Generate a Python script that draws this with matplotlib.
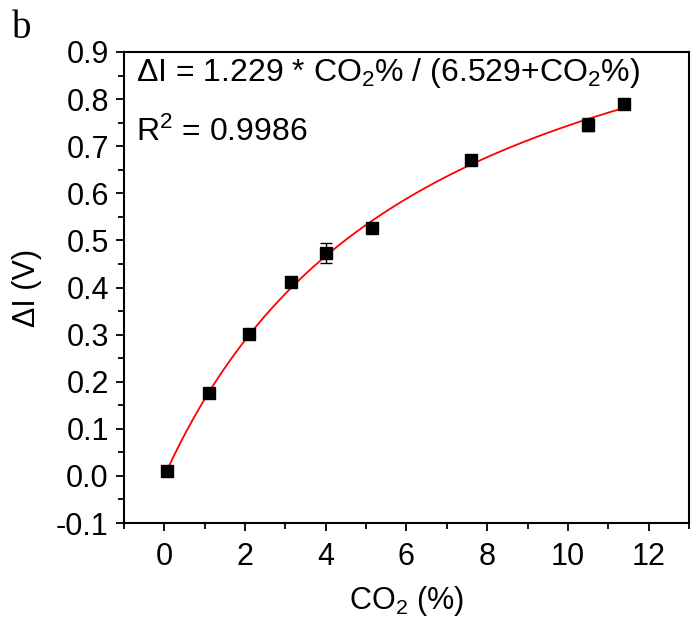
import numpy as np
import matplotlib
matplotlib.use("Agg")
import matplotlib.pyplot as plt
from matplotlib.ticker import MultipleLocator

plt.rcParams['font.family'] = ['Liberation Sans', 'DejaVu Sans']
plt.rcParams['mathtext.fontset'] = 'custom'
plt.rcParams['mathtext.rm'] = 'Liberation Sans'
plt.rcParams['mathtext.it'] = 'Liberation Sans:italic'
plt.rcParams['mathtext.bf'] = 'Liberation Sans:bold'

# Data
co2 = [0.07, 1.10, 2.09, 3.13, 4.01, 5.15, 7.60, 10.51, 11.39]
delta_i = [0.010, 0.175, 0.301, 0.411, 0.474, 0.526, 0.671, 0.746, 0.789]
err = [0.004, 0.010, 0.004, 0.004, 0.021, 0.006, 0.005, 0.014, 0.004]

# Fit parameters as printed on the chart
fit_a = 1.229
fit_k = 6.529

xticks = [0, 2, 4, 6, 8, 10, 12]
yticks = [-0.1, 0.0, 0.1, 0.2, 0.3, 0.4, 0.5, 0.6, 0.7, 0.8, 0.9]

fig = plt.figure(figsize=(6.98, 6.3), dpi=100)
ax = fig.add_axes([0.1777, 0.1698, 0.8093, 0.7477])

xf = np.linspace(min(co2), max(co2), 300)
yf = fit_a * xf / (fit_k + xf)
ax.plot(xf, yf, color='#ff0000', lw=1.3, zorder=2)

ax.errorbar(co2, delta_i, yerr=err, fmt='s', color='black', ms=8,
            ecolor='black', elinewidth=1.0, capsize=4, capthick=1.0, zorder=3)

ax.set_xlim(-1, 13)
ax.set_ylim(-0.1, 0.9)
ax.set_xticks(xticks)
ax.set_yticks(yticks)
ax.set_yticklabels([f"{v:.1f}" for v in yticks])
ax.xaxis.set_minor_locator(MultipleLocator(1))
ax.yaxis.set_minor_locator(MultipleLocator(0.05))
ax.tick_params(which='major', direction='out', length=6, width=1.3,
               labelsize=22, top=False, right=False, pad=5)
ax.tick_params(axis='x', which='major', pad=8)
ax.tick_params(which='minor', direction='out', length=4, width=1.3,
               top=False, right=False)
for s in ax.spines.values():
    s.set_linewidth(1.5)

ax.set_xlabel('CO$_2$ (%)', fontsize=22, labelpad=8)
ax.set_ylabel('ΔI (V)', fontsize=22, labelpad=10)

ax.text(0.022, 0.955, 'ΔI = 1.229 * CO$_2$% / (6.529+CO$_2$%)',
        transform=ax.transAxes, fontsize=23, va='center', ha='left')
ax.text(0.022, 0.83, 'R$^2$ = 0.9986',
        transform=ax.transAxes, fontsize=23, va='center', ha='left')

fig.text(0.017, 0.955, 'b', fontsize=28, family='Liberation Serif',
         va='center', ha='left')

fig.savefig('out.png', dpi=100)
